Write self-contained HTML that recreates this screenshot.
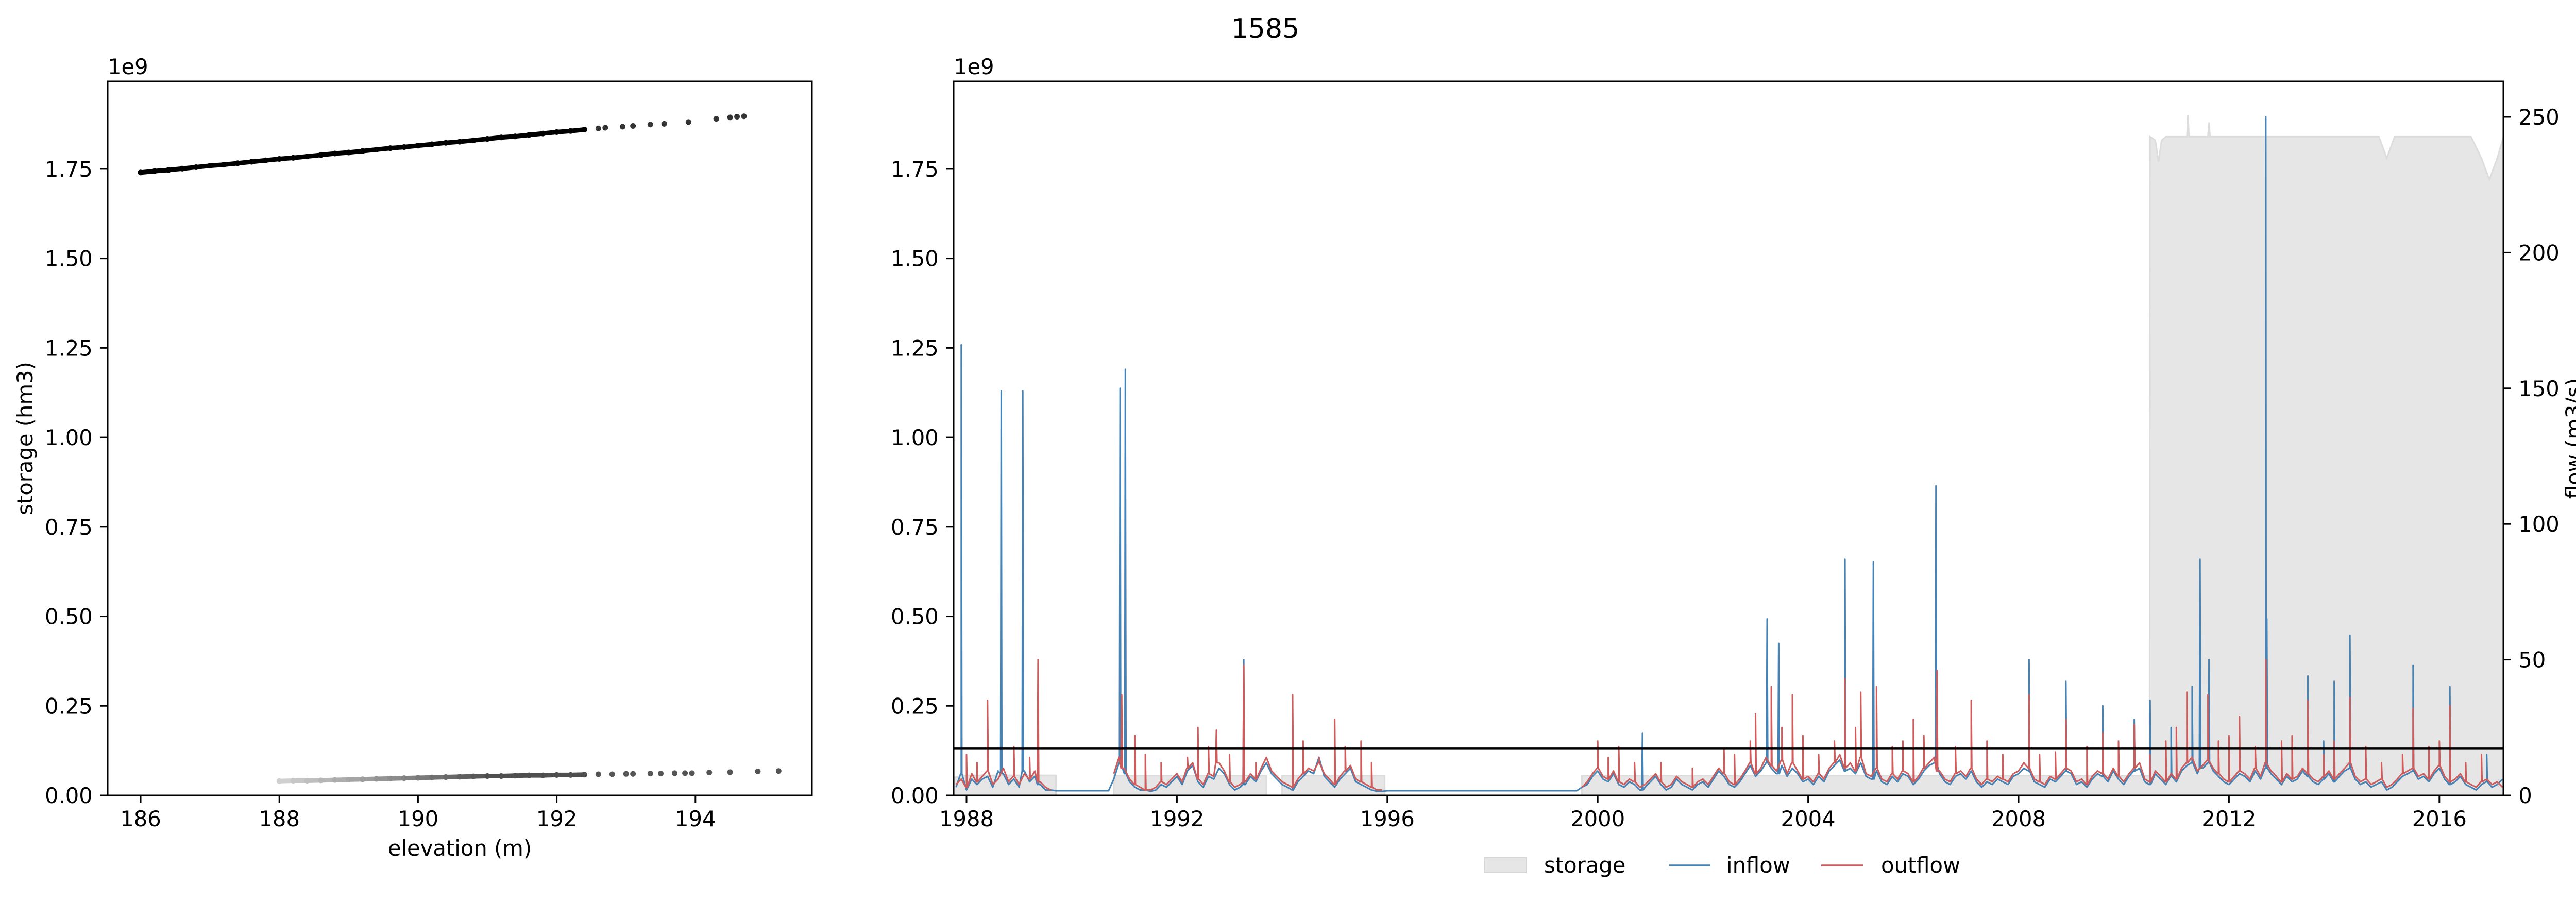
<!DOCTYPE html>
<html><head><meta charset="utf-8"><style>
html,body{margin:0;padding:0;background:#fff;}
svg{display:block;font-family:"DejaVu Sans","Liberation Sans",sans-serif;}
</style></head><body>
<svg id="fig" width="5053" height="1751" viewBox="0 0 5053 1751" xmlns="http://www.w3.org/2000/svg">
<rect width="5053" height="1751" fill="#fff"/>
<text x="2456" y="73" font-size="52" text-anchor="middle">1585</text>
<g id="left"></g>
<g id="right"></g>
<g id="legend">
  <rect x="2881" y="1665" width="81" height="29" fill="#e6e6e6" stroke="#d6d6d6" stroke-width="2"/>
  <text x="2997" y="1694" font-size="41.7">storage</text>
  <line x1="3239" y1="1680" x2="3320" y2="1680" stroke="#4682b4" stroke-width="3.5"/>
  <text x="3351" y="1694" font-size="41.7">inflow</text>
  <line x1="3535" y1="1680" x2="3616" y2="1680" stroke="#cd5c5c" stroke-width="3.5"/>
  <text x="3651" y="1694" font-size="41.7">outflow</text>
</g>
</svg>
<script>
// ---------- left scatter data ----------
const upperElev = [186.0,186.2,186.4,186.6,186.8,187.0,187.2,187.4,187.6,187.8,188.0,188.2,188.4,188.6,188.8,189.0,189.2,189.4,189.6,189.8,190.0,190.2,190.4,190.6,190.8,191.0,191.2,191.4,191.6,191.8,192.0,192.2,192.4,192.6,192.7,192.95,193.1,193.35,193.55,193.9,194.3,194.5,194.6,194.7];
const upperStor = [1.740,1.744,1.747,1.751,1.755,1.759,1.762,1.766,1.770,1.774,1.778,1.781,1.785,1.789,1.793,1.796,1.800,1.804,1.808,1.811,1.815,1.819,1.823,1.826,1.830,1.834,1.838,1.841,1.845,1.849,1.853,1.856,1.860,1.863,1.865,1.868,1.870,1.874,1.876,1.881,1.890,1.894,1.896,1.897];
const lowerElev = [188.0,188.2,188.4,188.6,188.8,189.0,189.2,189.4,189.6,189.8,190.0,190.2,190.4,190.6,190.8,191.0,191.2,191.4,191.6,191.8,192.0,192.2,192.4,192.6,192.8,193.0,193.1,193.35,193.5,193.7,193.85,193.95,194.2,194.5,194.9,195.2];
const lowerStor = [0.040,0.041,0.041,0.042,0.043,0.044,0.045,0.046,0.047,0.048,0.049,0.050,0.051,0.052,0.053,0.054,0.054,0.055,0.056,0.056,0.057,0.057,0.058,0.059,0.059,0.060,0.060,0.061,0.061,0.062,0.062,0.062,0.064,0.065,0.067,0.068];
const leftXTicks = [186,188,190,192,194];
const storTicks = [0,0.25,0.5,0.75,1.0,1.25,1.5,1.75];
const storTickLabels = ["0.00","0.25","0.50","0.75","1.00","1.25","1.50","1.75"];

// ---------- right time-series data ----------
const flowStart = 1987.8, flowStep = 0.1;
const outflowBase = [4,6,3,8,5,7,9,4,6,10,5,7,4,8,6,9,5,3,2,
null,null,null,null,null,null,null,null,null,null,null,
8,14,10,6,4,3,2,2,3,5,4,6,8,5,10,12,6,4,8,7,12,9,5,3,4,5,8,6,10,14,9,7,5,4,3,6,8,10,9,12,8,6,4,7,9,11,6,5,4,3,2,2,
null,null,null,null,null,null,null,null,null,null,null,null,null,null,null,null,null,null,null,null,null,null,null,null,null,null,null,null,null,null,null,null,null,null,null,null,null,
3,5,8,10,7,6,9,5,4,6,
5,3,4,6,8,5,3,4,7,5,
4,3,5,6,4,7,10,8,5,4,
6,9,12,8,10,14,11,9,13,8,
12,9,6,7,5,8,6,10,12,15,
10,12,9,14,8,7,10,6,5,8,
6,9,8,5,7,10,12,14,9,6,
5,8,9,7,10,6,4,6,5,7,
6,5,8,9,12,10,6,5,4,7,
6,8,10,9,5,6,4,7,9,8,
6,10,7,5,8,10,12,6,5,9,
7,5,8,6,10,12,14,9,11,13,
10,8,6,5,7,9,8,6,10,7,
12,9,7,5,8,6,7,10,8,6,
5,7,9,6,8,10,12,7,5,6,
4,5,6,3,4,6,8,9,10,7,
8,6,9,11,7,5,6,8,5,4,
3,5,6,4,5,3];
const inflowBase = [3,8,2,6,4,6,7,3,9,8,4,6,3,9,5,7,4,2,2,
1.7,1.7,1.7,1.7,1.7,1.7,1.7,1.7,1.7,1.7,1.7,
6,12,8,5,3,2,2,1.5,2,4,3,5,7,4,9,11,5,3,7,6,10,8,4,2,3,4,7,5,9,12,8,6,4,3,2,5,7,9,8,14,7,5,3,6,8,10,5,4,3,2,1.5,1.5,
1.7,1.7,1.7,1.7,1.7,1.7,1.7,1.7,1.7,1.7,1.7,1.7,1.7,1.7,1.7,1.7,1.7,1.7,1.7,1.7,1.7,1.7,1.7,1.7,1.7,1.7,1.7,1.7,1.7,1.7,1.7,1.7,1.7,1.7,1.7,1.7,1.7,
3,4,7,9,6,5,8,4,3,5,
4,2,3,5,7,4,2,3,6,4,
3,2,4,5,3,6,9,7,4,3,
5,8,11,7,9,12,10,8,11,7,
10,8,5,6,4,7,5,9,11,13,
9,10,8,12,7,6,9,5,4,7,
5,8,7,4,6,9,11,12,8,5,
4,7,8,6,9,5,3,5,4,6,
5,4,7,8,10,9,5,4,3,6,
5,7,9,8,4,5,3,6,8,7,
5,9,6,4,7,9,10,5,4,8,
6,4,7,5,9,11,12,8,10,12,
9,7,5,4,6,8,7,5,9,6,
10,8,6,4,7,5,6,9,7,5,
4,6,8,5,7,9,10,6,4,5,
3,4,5,2,3,5,7,8,9,6,
7,5,8,10,6,4,5,7,4,3,
2,4,5,3,4,6];
const inflowPeakDates = [1987.9,1988.66,1989.07,1989.36,1990.92,1991.02,1993.27,1994.2,2000.85,2003.22,2003.44,2004.7,2005.24,2006.43,2008.2,2008.9,2009.6,2010.2,2010.5,2010.9,2011.3,2011.45,2011.62,2012.7,2012.72,2013.5,2013.8,2014.0,2014.3,2015.5,2016.2,2016.9];
const inflowPeakValues = [166,149,149,30,150,157,50,30,23,65,56,87,86,114,50,42,33,28,35,25,40,87,50,250,65,44,20,42,59,48,40,15];
const outflowPeakDates = [1988.0,1988.2,1988.4,1988.9,1989.2,1989.36,1990.95,1991.2,1991.4,1991.7,1992.2,1992.4,1992.6,1992.75,1993.0,1993.27,1993.5,1994.2,1994.4,1994.7,1995.0,1995.2,1995.5,1995.7,2000.0,2000.2,2000.4,2000.7,2001.2,2001.8,2002.4,2002.6,2002.9,2003.0,2003.3,2003.5,2003.7,2003.9,2004.2,2004.5,2004.7,2004.9,2005.0,2005.3,2005.6,2005.8,2006.0,2006.2,2006.45,2006.8,2007.1,2007.4,2007.7,2008.2,2008.4,2008.7,2008.9,2009.3,2009.6,2009.9,2010.2,2010.5,2010.8,2011.0,2011.2,2011.6,2011.8,2012.0,2012.2,2012.5,2012.7,2013.0,2013.2,2013.5,2013.8,2014.0,2014.3,2014.6,2014.9,2015.3,2015.5,2015.8,2016.0,2016.2,2016.5,2016.8];
const outflowPeakValues = [15,12,35,18,14,50,37,22,15,12,14,25,18,24,15,48,12,37,20,14,28,18,20,12,20,14,18,12,12,10,17,15,20,30,40,25,37,22,15,20,43,25,38,40,18,20,28,22,46,18,35,20,15,37,15,16,28,18,23,20,26,15,20,25,38,37,20,22,29,18,50,20,22,35,15,20,36,18,12,15,32,18,20,33,12,15];
const storageDates = [1987.76,1988.0,1989.7,1989.71,1990.79,1990.8,1993.7,1993.71,1993.99,1994.0,1995.95,1995.96,1999.69,1999.7,2010.49,2010.5,2010.6,2010.66,2010.72,2010.8,2011.0,2011.2,2011.22,2011.24,2011.6,2011.62,2011.64,2012.0,2013.0,2014.0,2014.85,2015.0,2015.15,2016.0,2016.6,2016.8,2016.95,2017.1,2017.22];
const storageValues = [0.05,0.056,0.056,null,null,0.055,0.055,null,null,0.055,0.055,null,null,0.055,0.055,1.84,1.83,1.77,1.83,1.84,1.84,1.84,1.90,1.84,1.84,1.88,1.84,1.84,1.84,1.84,1.84,1.78,1.84,1.84,1.84,1.78,1.72,1.78,1.84];
const thresholdFlow = [17.3];
const yearTicks = [1988,1992,1996,2000,2004,2008,2012,2016];
const flowTicks = [0,50,100,150,200,250];

const NS = "http://www.w3.org/2000/svg";
function mk(parent, tag, attrs, text){
  const e = document.createElementNS(NS, tag);
  for (const k in attrs) e.setAttribute(k, attrs[k]);
  if (text !== undefined) e.textContent = text;
  parent.appendChild(e);
  return e;
}
const FS = 41.7, TL = 14.6;
const yBottom = 1544, yTop = 158;
const yStor = v => yBottom - v * 694.9;
const yFlow = v => yBottom - v * 5.268;

// ================= LEFT PLOT =================
const L = document.getElementById('left');


const lx0 = 209, lx1 = 1576;
const xElev = e => 273 + (e - 186) * 134.6;

for (let i = 0; i < upperElev.length - 1; i++) {
  if (upperElev[i+1] - upperElev[i] <= 0.21 && upperElev[i+1] <= 192.4) {
    const seg = mk(L, 'line', {x1:xElev(upperElev[i]), y1:yStor(upperStor[i]), x2:xElev(upperElev[i+1]), y2:yStor(upperStor[i+1]), stroke:'#000', 'stroke-width':9});
    
    
  }
}
upperElev.forEach((e, i) => {
  const c = mk(L, 'circle', {cx:xElev(e), cy:yStor(upperStor[i]), r:5.5, fill: e > 192.4 ? '#333' : '#000'});
  
  
});
function grayFor(e){
  const t = Math.max(0, Math.min(1, (e - 188) / 3));
  const g = Math.round(208 - t * 130);
  return `rgb(${g},${g},${g})`;
}
for (let i = 0; i < lowerElev.length - 1; i++) {
  if (lowerElev[i+1] - lowerElev[i] <= 0.21 && lowerElev[i+1] <= 192.4) {
    const seg = mk(L, 'line', {x1:xElev(lowerElev[i]), y1:yStor(lowerStor[i]), x2:xElev(lowerElev[i+1]), y2:yStor(lowerStor[i+1]), stroke:grayFor(lowerElev[i]), 'stroke-width':9});
    
    
  }
}
lowerElev.forEach((e, i) => {
  const c = mk(L, 'circle', {cx:xElev(e), cy:yStor(lowerStor[i]), r:5.5, fill: e > 192.4 ? '#555' : grayFor(e)});
  
  
});
const lframe = mk(L, 'rect', {x:lx0, y:yTop, width:lx1-lx0, height:yBottom-yTop, fill:'none', stroke:'#000', 'stroke-width':3});


storTicks.forEach((v, i) => {
  const t = mk(L, 'line', {x1:lx0-TL, y1:yStor(v), x2:lx0, y2:yStor(v), stroke:'#000', 'stroke-width':3});
  
  
  const lb = mk(L, 'text', {x:lx0-TL-14.6, y:yStor(v)+15, 'font-size':FS, 'text-anchor':'end'}, storTickLabels[i]);
  
  
});
leftXTicks.forEach(v => {
  const t = mk(L, 'line', {x1:xElev(v), y1:yBottom, x2:xElev(v), y2:yBottom+TL, stroke:'#000', 'stroke-width':3});
  
  
  const lb = mk(L, 'text', {x:xElev(v), y:1604, 'font-size':FS, 'text-anchor':'middle'}, String(v));
  
  
});
let t1 = mk(L, 'text', {x:lx0, y:144, 'font-size':FS}, '1e9');


let xl = mk(L, 'text', {x:(lx0+lx1)/2, y:1661, 'font-size':FS, 'text-anchor':'middle'}, 'elevation (m)');


let yl = mk(L, 'text', {x:0, y:0, 'font-size':FS, 'text-anchor':'middle', transform:`translate(63,851) rotate(-90)`}, 'storage (hm3)');



// ================= RIGHT PLOT =================
const R = document.getElementById('right');


const rx0 = 1851, rx1 = 4859;
const xYear = y => 1876 + (y - 1988) * 102.1;
const clip = mk(R, 'clipPath', {id:'rclip'});
mk(clip, 'rect', {x:rx0, y:yTop, width:rx1-rx0, height:yBottom-yTop});
const plotG = mk(R, 'g', {'clip-path':'url(#rclip)'});

let seg = [];
const segs = [];
storageDates.forEach((d, i) => {
  const v = storageValues[i];
  if (v === null) { if (seg.length) segs.push(seg); seg = []; }
  else seg.push([d, v]);
});
if (seg.length) segs.push(seg);
segs.forEach(s => {
  let p = `M${xYear(s[0][0])},${yBottom}`;
  s.forEach(([d, v]) => { p += ` L${xYear(d)},${yStor(v)}`; });
  p += ` L${xYear(s[s.length-1][0])},${yBottom} Z`;
  const a = mk(plotG, 'path', {d:p, fill:'#e6e6e6', stroke:'#dcdcdc', 'stroke-width':3});
  
  
});

function buildSeries(base, pDates, pVals){
  const pts = [];
  base.forEach((v, i) => { pts.push([flowStart + i*flowStep, v]); });
  const nearest = d => {
    const i = Math.max(0, Math.min(base.length-1, Math.round((d - flowStart)/flowStep)));
    return base[i] === null ? 1.7 : base[i];
  };
  pDates.forEach((d, k) => {
    const b = nearest(d);
    pts.push([d-0.012, b]); pts.push([d, pVals[k]]); pts.push([d+0.012, b]);
  });
  pts.sort((a, b) => a[0] - b[0]);
  const out = []; let cur = [];
  pts.forEach(p => { if (p[1] === null) { if (cur.length) out.push(cur); cur = []; } else cur.push(p); });
  if (cur.length) out.push(cur);
  return out;
}
function drawSeries(parts, color, name){
  parts.forEach(part => {
    const d = part.map((p, i) => (i ? 'L' : 'M') + xYear(p[0]).toFixed(1) + ',' + yFlow(p[1]).toFixed(1)).join(' ');
    const e = mk(plotG, 'path', {d:d, fill:'none', stroke:color, 'stroke-width':3, 'stroke-linejoin':'round'});
    
    
  });
}
drawSeries(buildSeries(inflowBase, inflowPeakDates, inflowPeakValues), '#4682b4', 'inflow-line');
drawSeries(buildSeries(outflowBase, outflowPeakDates, outflowPeakValues), '#cd5c5c', 'outflow-line');

const hl = mk(R, 'line', {x1:rx0, y1:yFlow(thresholdFlow[0]), x2:rx1, y2:yFlow(thresholdFlow[0]), stroke:'#000', 'stroke-width':3.5});



const rframe = mk(R, 'rect', {x:rx0, y:yTop, width:rx1-rx0, height:yBottom-yTop, fill:'none', stroke:'#000', 'stroke-width':3});


storTicks.forEach((v, i) => {
  const t = mk(R, 'line', {x1:rx0-TL, y1:yStor(v), x2:rx0, y2:yStor(v), stroke:'#000', 'stroke-width':3});
  
  
  const lb = mk(R, 'text', {x:rx0-TL-14.6, y:yStor(v)+15, 'font-size':FS, 'text-anchor':'end'}, storTickLabels[i]);
  
  
});
flowTicks.forEach(v => {
  const t = mk(R, 'line', {x1:rx1, y1:yFlow(v), x2:rx1+TL, y2:yFlow(v), stroke:'#000', 'stroke-width':3});
  
  
  const lb = mk(R, 'text', {x:rx1+TL+14.6, y:yFlow(v)+15, 'font-size':FS}, String(v));
  
  
});
yearTicks.forEach(v => {
  const t = mk(R, 'line', {x1:xYear(v), y1:yBottom, x2:xYear(v), y2:yBottom+TL, stroke:'#000', 'stroke-width':3});
  
  
  const lb = mk(R, 'text', {x:xYear(v), y:1604, 'font-size':FS, 'text-anchor':'middle'}, String(v));
  
  
});
let t2 = mk(R, 'text', {x:rx0, y:144, 'font-size':FS}, '1e9');


let fl = mk(R, 'text', {x:0, y:0, 'font-size':FS, 'text-anchor':'middle', transform:`translate(5010,851) rotate(-90)`}, 'flow (m3/s)');


</script>
</body></html>
